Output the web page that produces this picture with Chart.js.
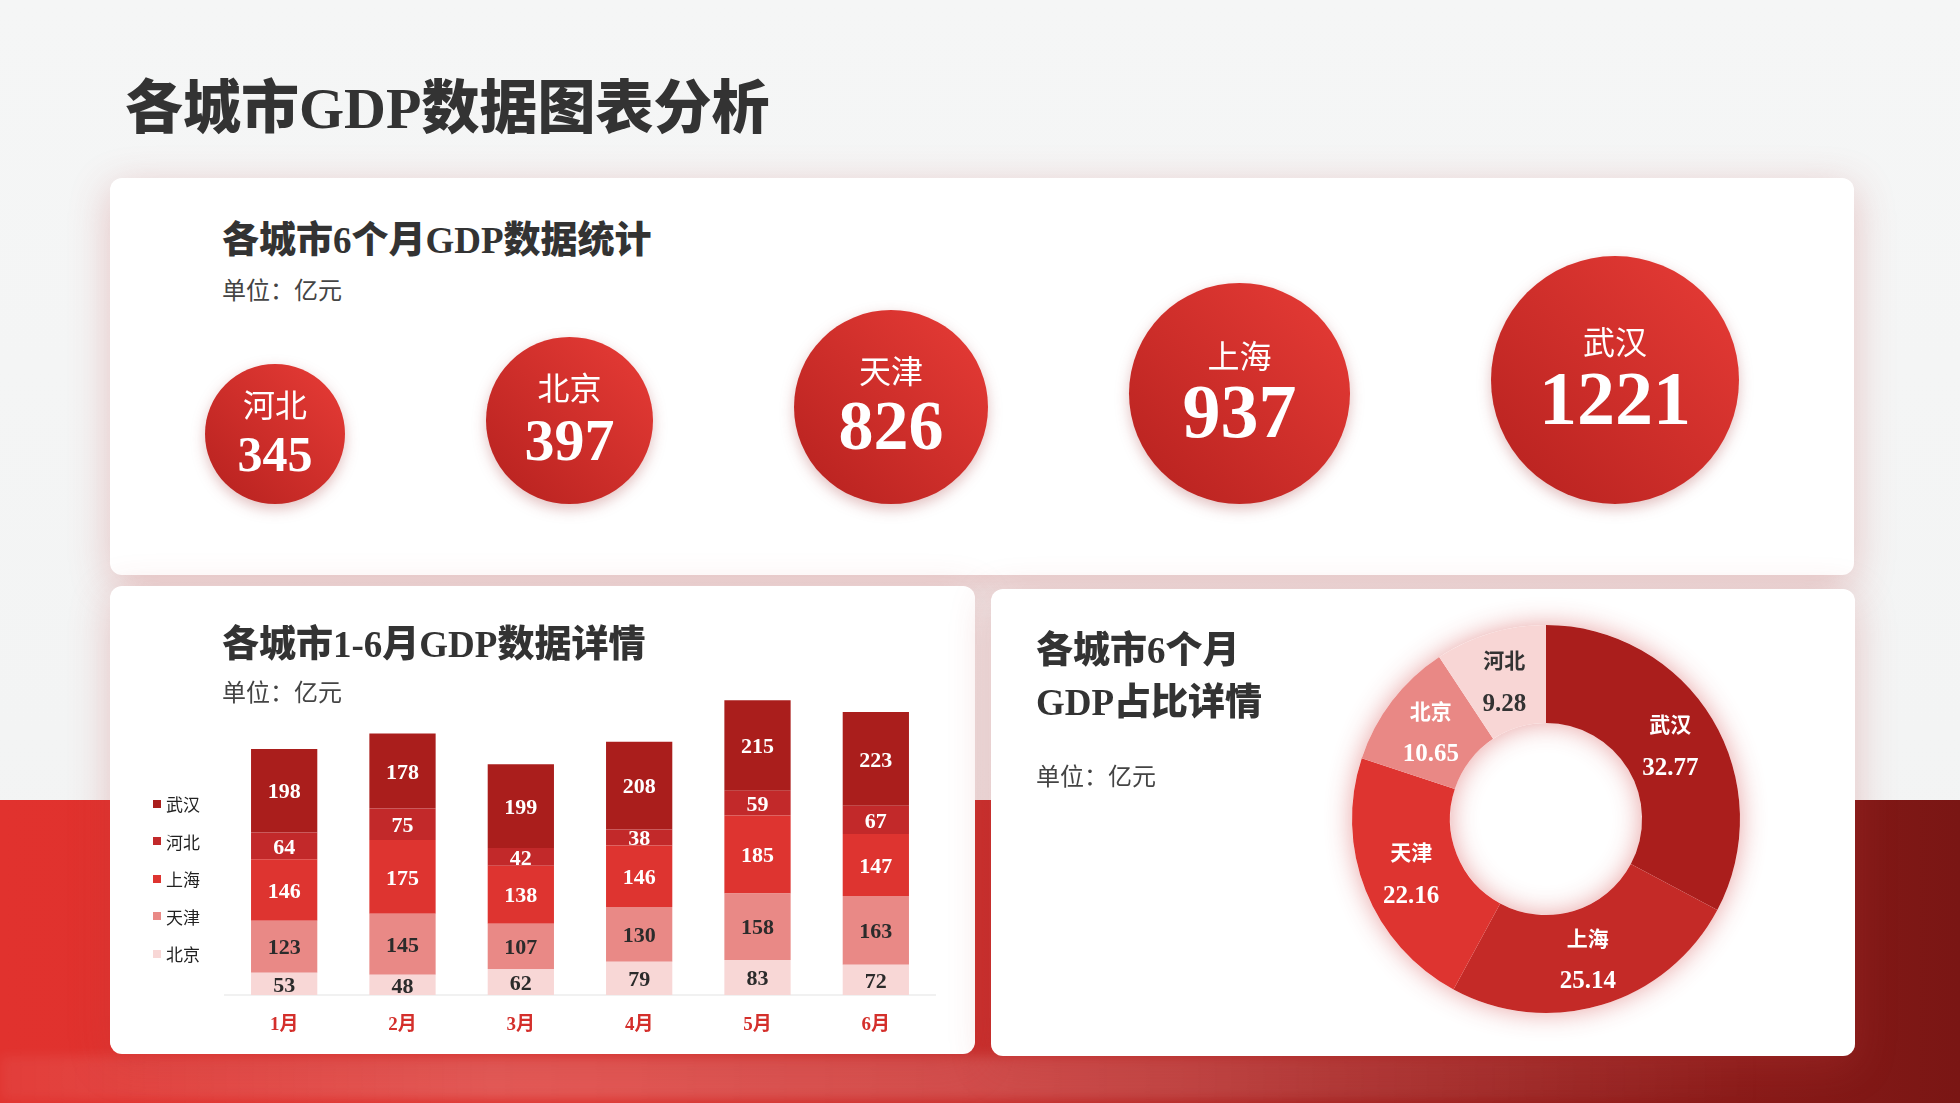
<!DOCTYPE html>
<html lang="zh">
<head>
<meta charset="utf-8">
<title>各城市GDP数据图表分析</title>
<script src="https://cdn.jsdelivr.net/npm/chart.js@4.4.1/dist/chart.umd.min.js"></script>
<style>
  html, body { margin: 0; padding: 0; }
  body {
    width: 1960px; height: 1103px; position: relative; overflow: hidden;
    background: linear-gradient(180deg, #f5f6f6 0%, #f2f3f3 100%);
    font-family: "Noto Sans CJK SC", sans-serif;
  }
  .band {
    position: absolute; left: 0; top: 800px; width: 1960px; height: 303px;
    background: linear-gradient(90deg, #e1322e 0%, #dc312d 30%, #c92d2b 50%, #a82321 68%, #8e1c1a 86%, #7a1614 100%);
  }
  .glow {
    position: absolute; left: 0; top: 1056px; width: 1960px; height: 44px;
    background: linear-gradient(90deg, rgba(255,255,255,0.06) 0%, rgba(255,255,255,0.2) 25%, rgba(255,255,255,0.14) 60%, rgba(255,255,255,0) 90%);
    filter: blur(6px);
  }
  .card {
    position: absolute; background: #fff; border-radius: 12px;
    box-shadow: 0 10px 40px rgba(190, 60, 60, 0.28);
  }
  .heading {
    position: absolute; margin: 0; color: #333; line-height: 1; white-space: nowrap;
    font-family: "Liberation Serif", "Noto Sans CJK SC", serif; font-weight: 900;
  }
  .unit {
    position: absolute; color: #444; font-size: 24px; line-height: 1; white-space: nowrap;
    font-family: "Noto Sans CJK SC", sans-serif;
  }
  canvas { position: absolute; left: 0; top: 0; }
  .legend { position: absolute; left: 43px; top: 199px; }
  .legend div { height: 37.5px; display: flex; align-items: center; font-size: 17px; color: #222; }
  .legend span { width: 8px; height: 8px; margin-right: 5px; display: inline-block; }
</style>
</head>
<body>
<div class="band"></div>
<div class="glow"></div>

<h1 class="heading" style="left:125px; top:80px; font-size:58px;">各城市GDP数据图表分析</h1>

<div class="card" style="left:110px; top:178px; width:1744px; height:397px;">
  <div class="heading" style="left:112px; top:44px; font-size:37px;">各城市6个月GDP数据统计</div>
  <div class="unit" style="left:112px; top:99px;">单位：亿元</div>
  <canvas id="bubbles" width="1744" height="397"></canvas>
</div>

<div class="card" style="left:110px; top:586px; width:865px; height:468px;">
  <div class="heading" style="left:112px; top:40px; font-size:37px;">各城市1-6月GDP数据详情</div>
  <div class="unit" style="left:112px; top:93px;">单位：亿元</div>
  <canvas id="bars" width="865" height="468"></canvas>
  <div class="legend" id="legend"></div>
</div>

<div class="card" style="left:991px; top:589px; width:864px; height:467px;">
  <div class="heading" style="left:45px; top:43px; font-size:37px;">各城市6个月</div>
  <div class="heading" style="left:45px; top:95px; font-size:37px;">GDP占比详情</div>
  <div class="unit" style="left:45px; top:174px;">单位：亿元</div>
  <canvas id="donut" width="864" height="467"></canvas>
</div>

<script>
// 6个月合计（亿元）
const cities = ['河北', '北京', '天津', '上海', '武汉'];
const totals = [345, 397, 826, 937, 1221];

// 1-6月明细，堆叠从下到上
const months = ['1月', '2月', '3月', '4月', '5月', '6月'];
const stackNames = ['北京', '天津', '上海', '河北', '武汉'];
const beijing = [53, 48, 62, 79, 83, 72];
const tianjin = [123, 145, 107, 130, 158, 163];
const shanghai = [146, 175, 138, 146, 185, 147];
const hebei = [64, 75, 42, 38, 59, 67];
const wuhan = [198, 178, 199, 208, 215, 223];

// 占比（%）
const shareCities = ['武汉', '上海', '天津', '北京', '河北'];
const shares = [32.77, 25.14, 22.16, 10.65, 9.28];

const SERIF = '"Liberation Serif", "Noto Sans CJK SC", serif';
const SANS = '"Noto Sans CJK SC", sans-serif';

// ---------- top: bubbles sized by rank, sitting on one baseline ----------
const R0 = 70, RSTEP = 13.5, GAP = 141, FIRST_X = 165, BASE_Y = 326;
const ranks = totals.map(v => totals.filter(t => t < v).length);
const radii = ranks.map(k => R0 + RSTEP * k);
const xs = [];
radii.forEach((r, i) => {
    xs.push(i === 0 ? FIRST_X : xs[i - 1] + radii[i - 1] + GAP + r);
});
const bubblePoints = totals.map((v, i) => ({ x: xs[i], y: BASE_Y - radii[i], r: radii[i] }));

const bubbleShadow = {
    id: 'bubbleShadow',
    beforeDatasetDraw(chart) {
        const ctx = chart.ctx;
        ctx.save();
        ctx.shadowColor = 'rgba(150, 25, 25, 0.28)';
        ctx.shadowBlur = 14;
        ctx.shadowOffsetY = 5;
    },
    afterDatasetDraw(chart) {
        chart.ctx.restore();
    },
    afterDatasetsDraw(chart) {
        const ctx = chart.ctx;
        chart.getDatasetMeta(0).data.forEach((el, i) => {
            const numSize = Math.round(Math.min(radii[i] * 0.72, 76));
            const nameY = el.y + 20 - numSize * 0.34 - 32;
            const numY = el.y + 24;
            ctx.save();
            ctx.fillStyle = '#fff';
            ctx.textAlign = 'center';
            ctx.textBaseline = 'middle';
            ctx.font = '32px ' + SANS;
            ctx.fillText(cities[i], el.x, nameY);
            ctx.font = 'bold ' + numSize + 'px ' + SERIF;
            ctx.fillText(String(totals[i]), el.x, numY);
            ctx.restore();
        });
    }
};

new Chart(document.getElementById('bubbles'), {
    type: 'bubble',
    data: {
        datasets: [{
            data: bubblePoints,
            borderWidth: 0,
            hoverRadius: 0,
            clip: false,
            backgroundColor: c => {
                const p = c.raw;
                const ch = c.chart;
                if (!p || !ch.scales || !ch.scales.x) return '#d1302c';
                const cx = ch.scales.x.getPixelForValue(p.x);
                const cy = ch.scales.y.getPixelForValue(p.y);
                if (!isFinite(cx) || !isFinite(cy)) return '#d1302c';
                const g = ch.ctx.createLinearGradient(cx + p.r * 0.7, cy - p.r * 0.7, cx - p.r * 0.7, cy + p.r * 0.7);
                g.addColorStop(0, '#e03833');
                g.addColorStop(1, '#bd2522');
                return g;
            }
        }]
    },
    options: {
        responsive: false,
        animation: false,
        events: [],
        layout: { padding: 0, autoPadding: false },
        plugins: { legend: { display: false }, tooltip: { enabled: false } },
        scales: {
            x: { type: 'linear', display: false, min: 0, max: 1744 },
            y: { type: 'linear', display: false, min: 0, max: 397, reverse: true }
        }
    },
    plugins: [bubbleShadow]
});

// ---------- bottom left: stacked bars ----------
const barColors = ['#f8d7d6', '#e98986', '#de3430', '#c2292a', '#aa1e1c'];
const barLabelColors = ['#2b2b2b', '#2b2b2b', '#fff', '#fff', '#fff'];
const barSeries = [beijing, tianjin, shanghai, hebei, wuhan];

const legendEl = document.getElementById('legend');
stackNames.slice().reverse().forEach(name => {
    const idx = stackNames.indexOf(name);
    const row = document.createElement('div');
    row.innerHTML = '<span style="background:' + barColors[idx] + '"></span>' + name;
    legendEl.appendChild(row);
});

const barLabels = {
    id: 'barLabels',
    afterDatasetsDraw(chart) {
        const ctx = chart.ctx;
        chart.data.datasets.forEach((ds, di) => {
            chart.getDatasetMeta(di).data.forEach((bar, i) => {
                ctx.save();
                ctx.fillStyle = barLabelColors[di];
                ctx.font = 'bold 22px ' + SERIF;
                ctx.textAlign = 'center';
                ctx.textBaseline = 'middle';
                ctx.fillText(String(ds.data[i]), bar.x, (bar.y + bar.base) / 2 + 2);
                ctx.restore();
            });
        });
    }
};

new Chart(document.getElementById('bars'), {
    type: 'bar',
    data: {
        labels: months,
        datasets: stackNames.map((name, i) => ({
            label: name,
            data: barSeries[i],
            backgroundColor: barColors[i],
            borderWidth: 0,
            categoryPercentage: 1,
            barPercentage: 0.56
        }))
    },
    options: {
        responsive: false,
        animation: false,
        events: [],
        layout: { padding: { left: 115, right: 40, top: 72, bottom: 0 } },
        plugins: { legend: { display: false }, tooltip: { enabled: false } },
        scales: {
            x: {
                stacked: true,
                grid: { display: false, drawTicks: false },
                border: { display: true, color: '#f1f1f1', width: 2 },
                ticks: { color: '#d42f2b', padding: 19, font: { family: SERIF, size: 19, weight: 'bold' } },
                afterFit: s => { s.height = 59; }
            },
            y: { stacked: true, display: false, min: 0, max: 800 }
        }
    },
    plugins: [barLabels]
});

// ---------- bottom right: doughnut ----------
const donutColors = ['#aa1e1c', '#c42a27', '#de3430', '#e98885', '#f8d6d5'];
const donutLabelColors = ['#fff', '#fff', '#fff', '#fff', '#333'];

const donutExtras = {
    id: 'donutExtras',
    beforeDatasetsDraw(chart) {
        const arc = chart.getDatasetMeta(0).data[0];
        if (!arc) return;
        const ctx = chart.ctx;
        ctx.save();
        ctx.beginPath();
        ctx.arc(arc.x, arc.y, arc.outerRadius, 0, Math.PI * 2);
        ctx.arc(arc.x, arc.y, arc.innerRadius, Math.PI * 2, 0, true);
        ctx.closePath();
        ctx.shadowColor = 'rgba(205, 50, 50, 0.45)';
        ctx.shadowBlur = 26;
        ctx.fillStyle = '#fff';
        ctx.fill('evenodd');
        ctx.restore();
    },
    afterDatasetsDraw(chart) {
        const ctx = chart.ctx;
        chart.getDatasetMeta(0).data.forEach((el, i) => {
            const a = (el.startAngle + el.endAngle) / 2;
            const r = (el.innerRadius + el.outerRadius) / 2;
            const x = el.x + Math.cos(a) * r;
            const y = el.y + Math.sin(a) * r;
            ctx.save();
            ctx.fillStyle = donutLabelColors[i];
            ctx.textAlign = 'center';
            ctx.textBaseline = 'middle';
            ctx.font = 'bold 21px ' + SANS;
            ctx.fillText(shareCities[i], x, y - 20);
            ctx.font = 'bold 25px ' + SERIF;
            ctx.fillText(shares[i].toFixed(2), x, y + 24);
            ctx.restore();
        });
    }
};

new Chart(document.getElementById('donut'), {
    type: 'doughnut',
    data: {
        labels: shareCities,
        datasets: [{
            data: shares,
            backgroundColor: donutColors,
            borderWidth: 0,
            hoverOffset: 0,
            offset: 0
        }]
    },
    options: {
        responsive: false,
        animation: false,
        events: [],
        cutout: '49.5%',
        layout: { padding: { left: 361, right: 115, top: 36, bottom: 43 } },
        plugins: { legend: { display: false }, tooltip: { enabled: false } }
    },
    plugins: [donutExtras]
});
</script>
</body>
</html>
